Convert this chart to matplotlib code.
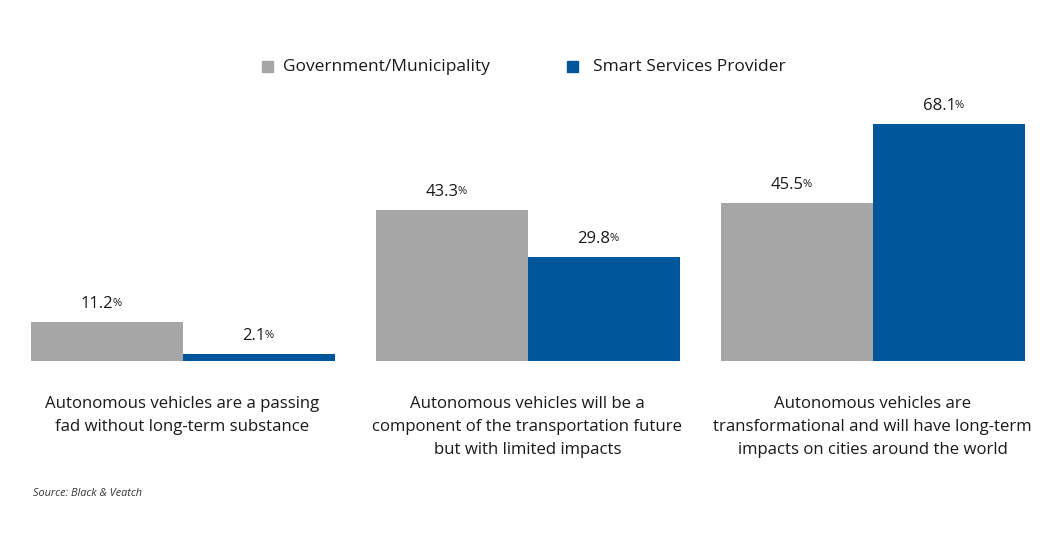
import matplotlib
matplotlib.use("Agg")
import matplotlib.pyplot as plt
import matplotlib.patches as mpatches
from matplotlib.transforms import offset_copy
import numpy as np

CATEGORIES = [
    "Autonomous vehicles are a passing\nfad without long-term substance",
    "Autonomous vehicles will be a\ncomponent of the transportation future\nbut with limited impacts",
    "Autonomous vehicles are\ntransformational and will have long-term\nimpacts on cities around the world",
]
SERIES = ["Government/Municipality", "Smart Services Provider"]
GOV_VALUES = [11.2, 43.3, 45.5]
SSP_VALUES = [2.1, 29.8, 68.1]
COLORS = ["#A6A6A6", "#00569A"]

plt.rcParams["font.family"] = ["Open Sans", "DejaVu Sans"]

fig = plt.figure(figsize=(10.6, 5.38), dpi=100)
fig.patch.set_facecolor("white")

# axes spans full width; baseline at 361 px from top
base = (538 - 361) / 538
ax = fig.add_axes([0, base, 1, 1 - base])
ax.set_xlim(-0.529, 2.543)
ax.set_ylim(0, 361 / 3.48)
ax.axis("off")

w = 152 / 345
x = np.arange(len(CATEGORIES))
for vals, off, color in zip([GOV_VALUES, SSP_VALUES], [-w / 2, w / 2], COLORS):
    ax.bar(x + off, vals, width=w, color=color, linewidth=0)
    for xi, v in zip(x + off, vals):
        t_num = offset_copy(ax.transData, fig=fig, x=7, y=14, units="dots")
        t_pct = offset_copy(ax.transData, fig=fig, x=6, y=16, units="dots")
        ax.text(xi, v, f"{v:.1f}", transform=t_num, ha="right", va="baseline",
                fontsize=12, color="#1a1a1a")
        ax.text(xi, v, "%", transform=t_pct, ha="left", va="baseline",
                fontsize=8, color="#1a1a1a")

# category labels under groups
for xi, cat in zip(x, CATEGORIES):
    px = (182.5 + 345 * xi) / 1060
    fig.text(px, 1 - 396 / 538, cat, ha="center", va="top", fontsize=12.1,
             color="#1a1a1a", linespacing=1.58)

# legend
leg_y = 1 - 67 / 538
for lx, tx, label, color in [(262, 283, SERIES[0], COLORS[0]), (567, 593, SERIES[1], COLORS[1])]:
    fig.patches.append(mpatches.Rectangle((lx / 1060, 1 - 72 / 538), 11 / 1060, 11 / 538,
                                          transform=fig.transFigure, color=color))
    fig.text(tx / 1060, leg_y, label, ha="left", va="center", fontsize=12.5, color="#1a1a1a")

fig.text(33 / 1060, 1 - 493 / 538, "Source: Black & Veatch", ha="left", va="center",
         fontsize=7.8, style="italic", color="#333333")

fig.savefig("out.png", dpi=100, facecolor="white")
